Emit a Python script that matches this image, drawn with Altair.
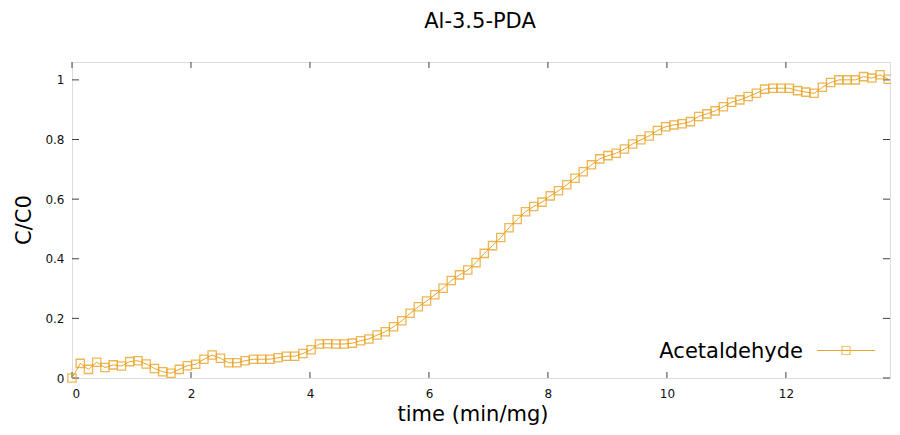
import altair as alt
import pandas as pd

# ---- data ----
step = 0.1386
conc = [
    0.000, 0.049, 0.029, 0.053, 0.035, 0.044, 0.040, 0.055, 0.058, 0.047,
    0.032, 0.021, 0.016, 0.029, 0.041, 0.046, 0.063, 0.077, 0.066, 0.051,
    0.051, 0.058, 0.063, 0.063, 0.063, 0.068, 0.073, 0.073, 0.082, 0.095,
    0.114, 0.115, 0.114, 0.114, 0.117, 0.125, 0.131, 0.144, 0.155, 0.172,
    0.192, 0.217, 0.239, 0.258, 0.279, 0.301, 0.327, 0.346, 0.362, 0.387,
    0.418, 0.444, 0.471, 0.504, 0.532, 0.558, 0.575, 0.590, 0.611, 0.628,
    0.648, 0.670, 0.692, 0.715, 0.735, 0.746, 0.754, 0.768, 0.785, 0.799,
    0.812, 0.830, 0.843, 0.849, 0.853, 0.860, 0.877, 0.886, 0.896, 0.910,
    0.925, 0.933, 0.944, 0.955, 0.969, 0.972, 0.972, 0.972, 0.964, 0.959,
    0.955, 0.975, 0.991, 1.000, 1.000, 1.000, 1.011, 1.006, 1.017, 1.002,
]
times = [round(i * step, 4) for i in range(len(conc))]
x_ticks = [0, 2, 4, 6, 8, 10, 12]
y_ticks = [0, 0.2, 0.4, 0.6, 0.8, 1]
series_name = "Acetaldehyde"
title_text = "Al-3.5-PDA"
x_title = "time (min/mg)"
y_title = "C/C0"

df = pd.DataFrame({"t": times, "c": conc})
xt = pd.DataFrame({"v": x_ticks})
yt = pd.DataFrame({"v": y_ticks})

W, H = 818, 316
COLOR = "#E9A52A"
FRAME = "#404040"
FONT = "DejaVu Sans"

xscale = alt.Scale(domain=[0, 13.75], nice=False, zero=False)
yscale = alt.Scale(domain=[0, 1.06], nice=False, zero=False)

xaxis = alt.Axis(values=x_ticks, ticks=False, domain=False, grid=False, title=None,
                 labelPadding=10, labelFont=FONT, labelFontSize=12, labelColor="#111",
                 format="~g")
yaxis = alt.Axis(values=y_ticks, ticks=False, domain=False, grid=False, title=None,
                 labelPadding=8, labelFont=FONT, labelFontSize=12, labelColor="#111",
                 format="~g")

base = alt.Chart(df)
line = base.mark_line(color=COLOR, strokeWidth=1, clip=False).encode(
    x=alt.X("t:Q", scale=xscale, axis=xaxis),
    y=alt.Y("c:Q", scale=yscale, axis=yaxis),
)
pts = base.mark_point(shape="square", filled=False, color=COLOR, size=68,
                      strokeWidth=1.3, opacity=0.8, clip=False).encode(
    x=alt.X("t:Q", scale=xscale),
    y=alt.Y("c:Q", scale=yscale),
)

tick_len = 6
bx = alt.Chart(xt).mark_rule(color=FRAME, strokeWidth=1).encode(
    x=alt.X("v:Q", scale=xscale), y=alt.value(H), y2=alt.value(H - tick_len))
tx = alt.Chart(xt).mark_rule(color=FRAME, strokeWidth=1).encode(
    x=alt.X("v:Q", scale=xscale), y=alt.value(0), y2=alt.value(tick_len))
ly = alt.Chart(yt).mark_rule(color=FRAME, strokeWidth=1).encode(
    y=alt.Y("v:Q", scale=yscale), x=alt.value(0), x2=alt.value(tick_len + 1))
ry = alt.Chart(yt).mark_rule(color=FRAME, strokeWidth=1).encode(
    y=alt.Y("v:Q", scale=yscale), x=alt.value(W), x2=alt.value(W - tick_len - 1))

lab = pd.DataFrame({"name": [series_name]})
leg_text = alt.Chart(lab).mark_text(align="right", baseline="alphabetic", font=FONT,
                                    fontSize=21, color="#000").encode(
    text="name:N", x=alt.value(731), y=alt.value(296))
leg_line = alt.Chart(lab).mark_rule(color=COLOR, strokeWidth=1).encode(
    x=alt.value(745), x2=alt.value(803), y=alt.value(288.5))
leg_pt = alt.Chart(lab).mark_point(shape="square", filled=False, color=COLOR, size=64,
                                   strokeWidth=1.2).encode(
    x=alt.value(774), y=alt.value(288.5))

ttl = pd.DataFrame({"s": [title_text], "xs": [x_title], "ys": [y_title]})
title_mark = alt.Chart(ttl).mark_text(align="center", baseline="middle", font=FONT,
                                      fontSize=21, color="#000").encode(
    text="s:N", x=alt.value(W / 2 - 1), y=alt.value(-40))
xtitle_mark = alt.Chart(ttl).mark_text(align="center", baseline="middle", font=FONT,
                                       fontSize=21, color="#000").encode(
    text="xs:N", x=alt.value(W / 2 - 8), y=alt.value(353))
ytitle_mark = alt.Chart(ttl).mark_text(align="center", baseline="middle", font=FONT,
                                       fontSize=21, color="#000", angle=270).encode(
    text="ys:N", x=alt.value(-47), y=alt.value(H / 2))

chart = alt.layer(
    bx, tx, ly, ry, line, pts, leg_line, leg_pt, leg_text,
    title_mark, xtitle_mark, ytitle_mark,
).properties(
    width=W, height=H,
    autosize=alt.AutoSizeParams(type="none"),
    padding={"left": 64, "top": 54, "right": 1, "bottom": 55},
).configure_view(stroke=FRAME, strokeWidth=1).configure(background="white")

chart.save("out.html", embed_options={"renderer": "svg", "actions": False})
